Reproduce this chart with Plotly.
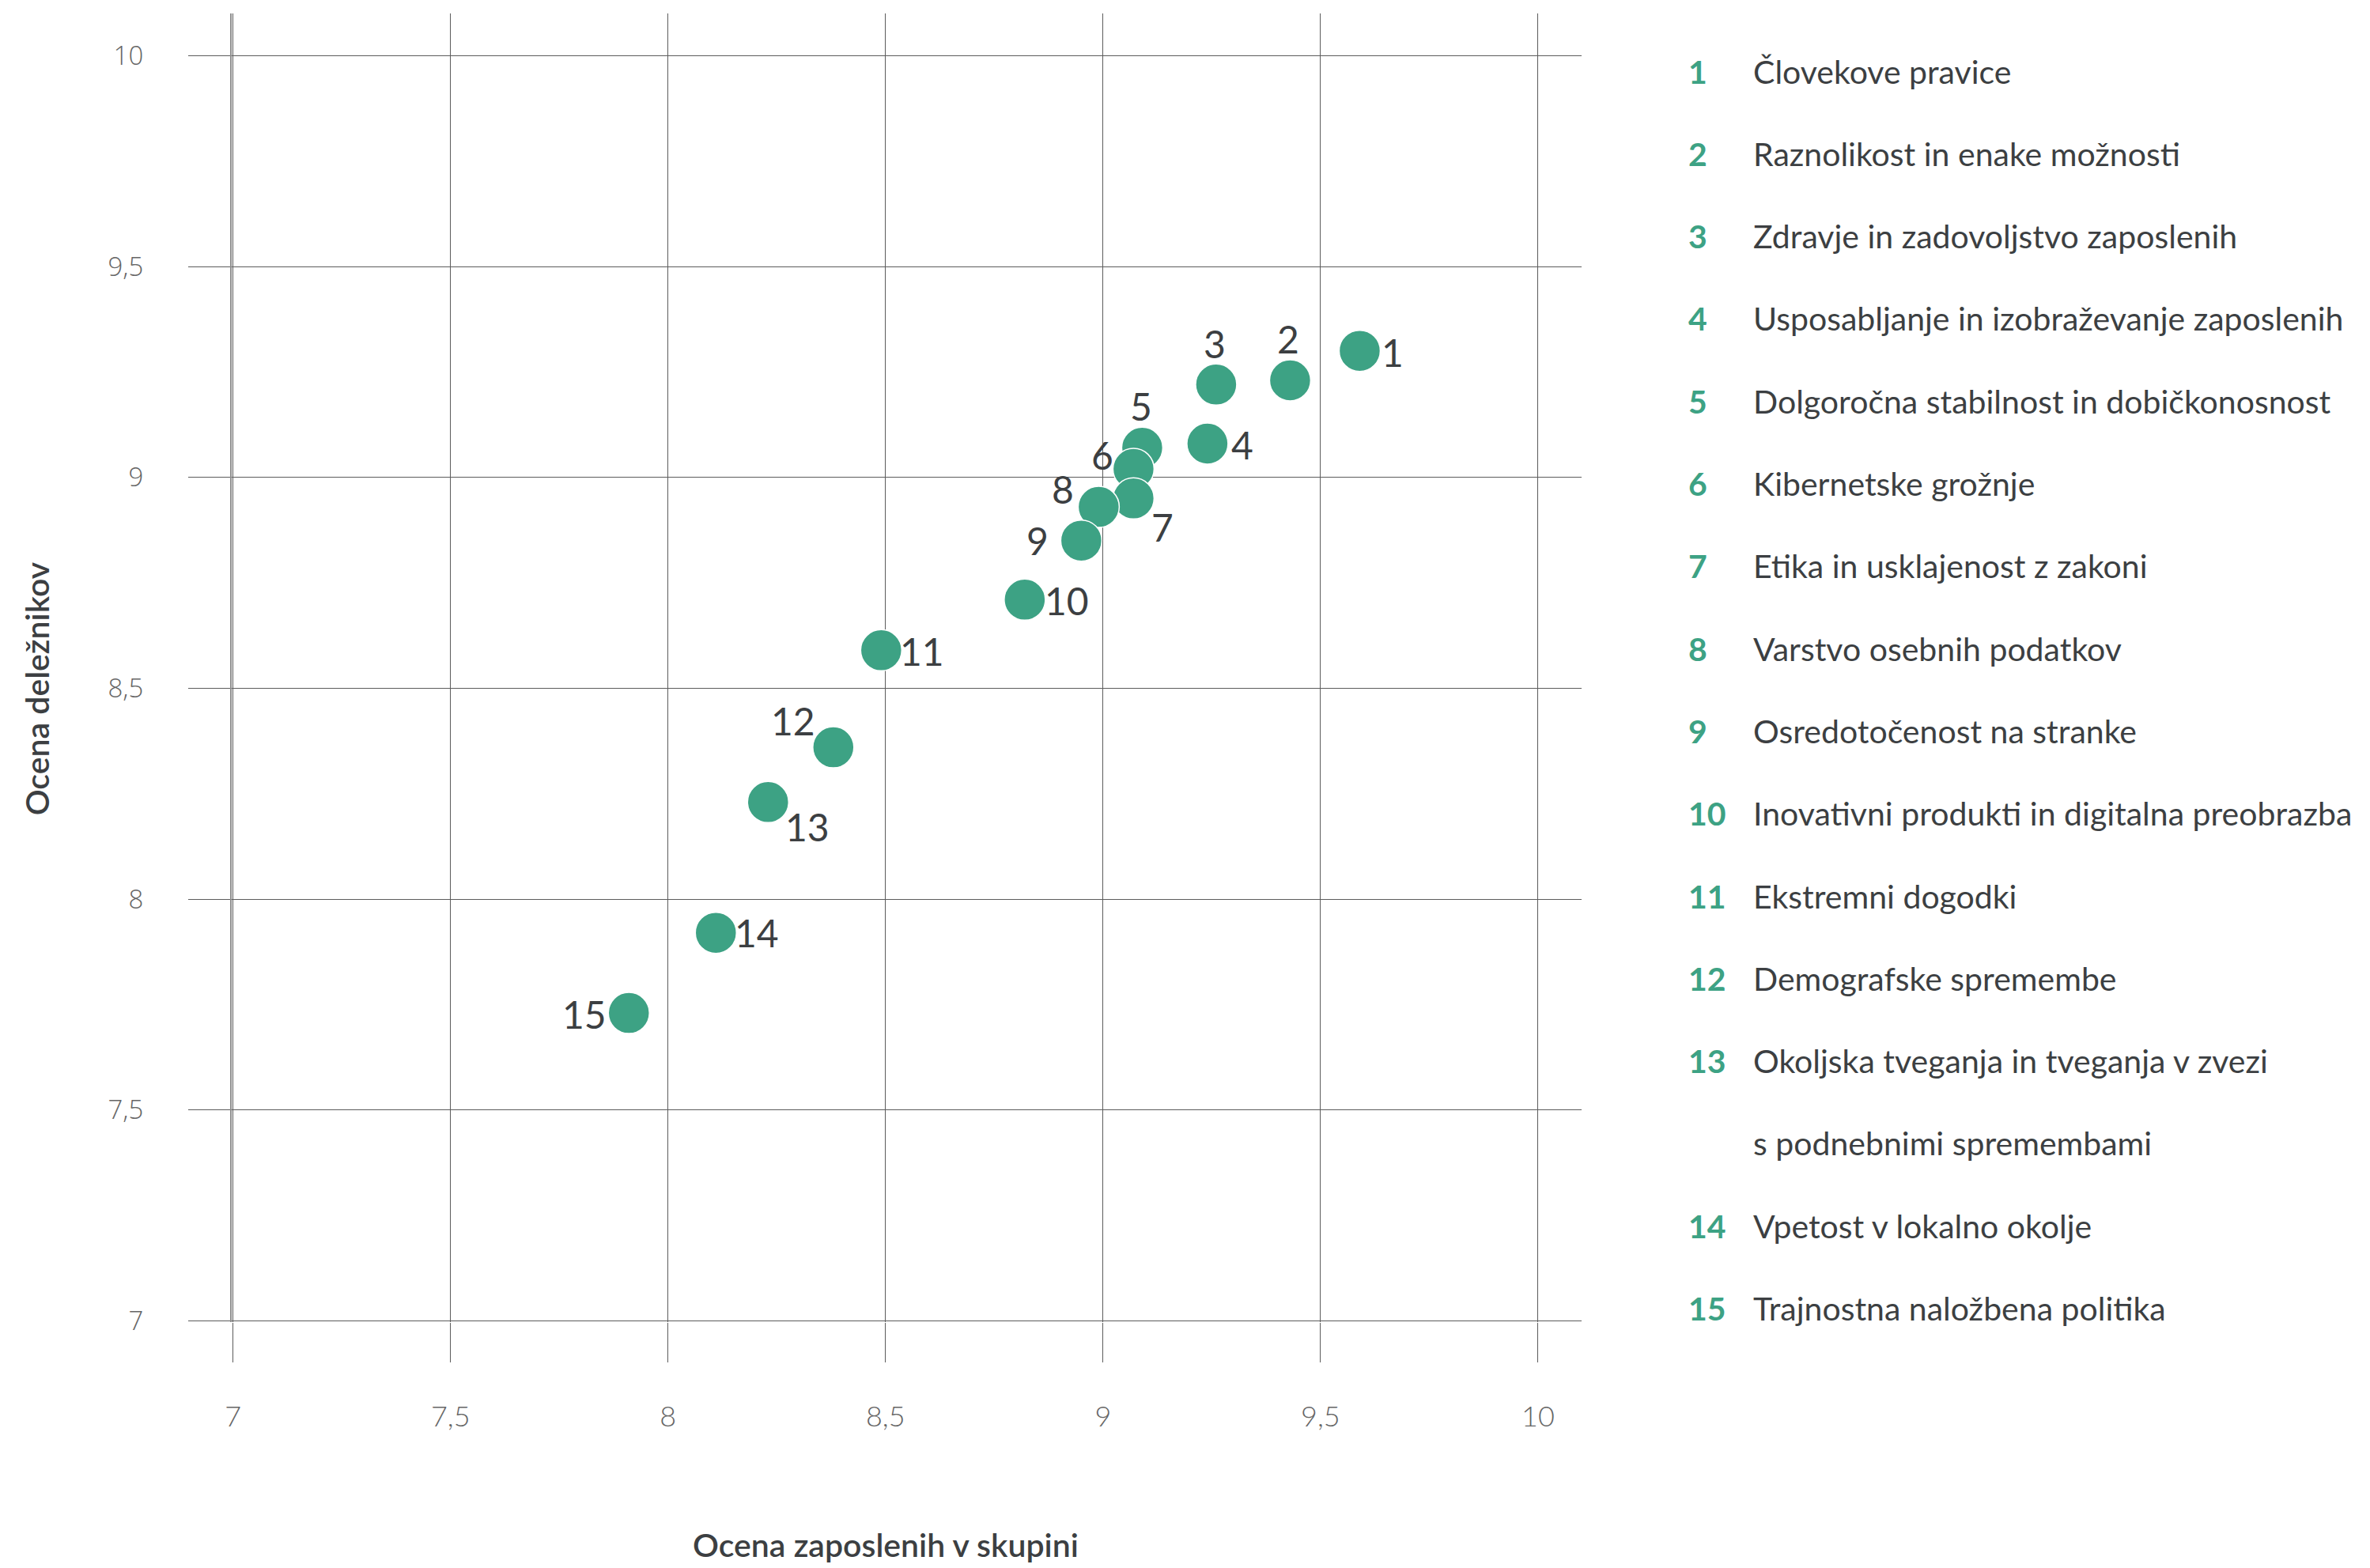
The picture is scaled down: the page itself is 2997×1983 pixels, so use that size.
import plotly.graph_objects as go

# ---------------- data ----------------
topic_ids = [str(i) for i in range(1, 16)]
topics = [
    "Človekove pravice",
    "Raznolikost in enake možnosti",
    "Zdravje in zadovoljstvo zaposlenih",
    "Usposabljanje in izobraževanje zaposlenih",
    "Dolgoročna stabilnost in dobičkonosnost",
    "Kibernetske grožnje",
    "Etika in usklajenost z zakoni",
    "Varstvo osebnih podatkov",
    "Osredotočenost na stranke",
    "Inovativni produkti in digitalna preobrazba",
    "Ekstremni dogodki",
    "Demografske spremembe",
    "Okoljska tveganja in tveganja v zvezi\ns podnebnimi spremembami",
    "Vpetost v lokalno okolje",
    "Trajnostna naložbena politika",
]
employees_score = [9.59, 9.43, 9.26, 9.24, 9.09, 9.07, 9.07, 8.99, 8.95, 8.82, 8.49, 8.38, 8.23, 8.11, 7.91]
stakeholders_score = [9.30, 9.23, 9.22, 9.08, 9.07, 9.02, 8.95, 8.93, 8.85, 8.71, 8.59, 8.36, 8.23, 7.92, 7.73]

tick_vals = [7, 7.5, 8, 8.5, 9, 9.5, 10]
tick_text = ["7", "7,5", "8", "8,5", "9", "9,5", "10"]

x_title = "Ocena zaposlenih v skupini"
y_title = "Ocena deležnikov"

# ---------------- styling ----------------
GREEN = "#3da284"
TEXT = "#3c3f42"
TICK = "#666666"
GRID = "#5c5c5c"

W, H = 2997, 1983
L, R, T, B = 293, 997, 17, 311
PW = W - L - R
PH = H - T - B

# label offsets (px, screen: dx right, dy down) for point numbers
label_offsets = [
    (42, 2), (-2, -53), (-2, -52), (44, 1), (-1, -53),
    (-39, -18), (37, 36), (-45, -23), (-55, 0), (53, 1),
    (52, 1), (-51, -34), (50, 31), (52, 0), (-56, 1),
]


def px_to_paper_x(px):
    return (px - L) / PW


def py_to_paper_y(py):
    return (H - B - py) / PH


fig = go.Figure()
fig.add_trace(go.Scatter(
    x=employees_score,
    y=stakeholders_score,
    mode="markers",
    marker=dict(size=52, color=GREEN, line=dict(color="white", width=1.5)),
    hoverinfo="skip",
    showlegend=False,
))

annotations = []
for xi, yi, lab, (dx, dy) in zip(employees_score, stakeholders_score, topic_ids, label_offsets):
    annotations.append(dict(
        x=xi, y=yi, xref="x", yref="y", text=lab, showarrow=False,
        xanchor="center", yanchor="middle", xshift=dx, yshift=-dy,
        font=dict(family="Lato", size=48, color=TEXT),
    ))

# side list
row0, row_step = 90, 104.3
row = 0
for lab, topic in zip(topic_ids, topics):
    lines = topic.split("\n")
    annotations.append(dict(
        x=px_to_paper_x(2133), y=py_to_paper_y(row0 + row * row_step),
        xref="paper", yref="paper", text="<b>" + lab + "</b>", showarrow=False,
        xanchor="left", yanchor="middle",
        font=dict(family="Lato", size=41, color=GREEN),
    ))
    for ln in lines:
        annotations.append(dict(
            x=px_to_paper_x(2215), y=py_to_paper_y(row0 + row * row_step),
            xref="paper", yref="paper", text=ln, showarrow=False,
            xanchor="left", yanchor="middle",
            font=dict(family="Lato", size=41, color=TEXT),
        ))
        row += 1

# axis titles
annotations.append(dict(
    x=8.5, y=py_to_paper_y(1953), xref="x", yref="paper", text=x_title,
    showarrow=False, xanchor="center", yanchor="middle",
    font=dict(family="Lato", size=41, color=TEXT, weight=600),
))
annotations.append(dict(
    x=px_to_paper_x(46), y=8.5, xref="paper", yref="y", text=y_title,
    showarrow=False, xanchor="center", yanchor="middle", textangle=-90,
    font=dict(family="Lato", size=41, color=TEXT, weight=600),
))

fig.update_layout(
    width=W, height=H,
    margin=dict(l=L, r=R, t=T, b=B, pad=0),
    paper_bgcolor="white", plot_bgcolor="white",
    annotations=annotations,
    xaxis=dict(
        range=[6.997, 10.1], tickmode="array", tickvals=tick_vals, ticktext=tick_text,
        showgrid=True, gridcolor=GRID, gridwidth=1.4, zeroline=False, showline=False,
        ticks="outside", ticklen=50, tickwidth=1.4, tickcolor=GRID,
        ticklabelstandoff=38,
        tickfont=dict(family="Lato", size=36, color=TICK, weight=300),
        fixedrange=True,
    ),
    yaxis=dict(
        range=[6.997, 10.1], tickmode="array", tickvals=tick_vals, ticktext=tick_text,
        showgrid=True, gridcolor=GRID, gridwidth=1.4, zeroline=False,
        showline=True, linecolor="#8f8f8f", linewidth=2.2,
        ticks="outside", ticklen=53, tickwidth=1.4, tickcolor=GRID,
        ticklabelstandoff=50,
        tickfont=dict(family="Open Sans", size=33, color=TICK, weight=300),
        fixedrange=True,
    ),
)

fig.write_html(
    "out.html",
    config={"displayModeBar": False},
    post_script="document.body.style.margin='0';document.body.style.overflow='hidden';",
)
